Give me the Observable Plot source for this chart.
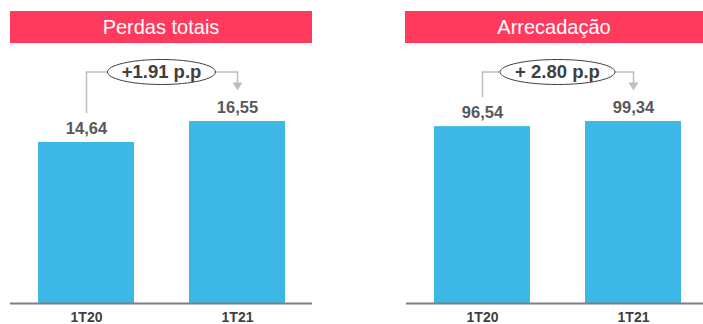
<!DOCTYPE html>
<html>
<head>
<meta charset="utf-8">
<script src="https://cdn.jsdelivr.net/npm/d3@7"></script>
<script src="https://cdn.jsdelivr.net/npm/@observablehq/plot@0.6"></script>
<style>
  html, body { margin: 0; padding: 0; background: #fff; overflow: hidden; }
  #wrap { position: relative; width: 703px; height: 324px; overflow: hidden; font-family: "Liberation Sans", Arial, sans-serif; }
  .banner { position: absolute; top: 11px; height: 32px; line-height: 32px; background: #FF3A5C; color: #fff; font-size: 20px; text-align: center; }
  .panel { position: absolute; top: 44px; }
  .panel svg { max-width: none !important; }
</style>
</head>
<body>
<div id="wrap"></div>
<script>
const quarters = ["1T20", "1T21"];
const perdas = [14.64, 16.55];
const arrecadacao = [96.54, 99.34];
const perdasLabels = ["14,64", "16,55"];
const arrecLabels = ["96,54", "99,34"];
const deltas = ["+1.91 p.p", "+ 2.80 p.p"];
const titles = ["Perdas totais", "Arrecadação"];

const wrap = document.getElementById("wrap");

function ellipseSymbol(rx, ry) {
  const k = 0.5523;
  return {
    draw(ctx) {
      ctx.moveTo(rx, 0);
      ctx.bezierCurveTo(rx, k * ry, k * rx, ry, 0, ry);
      ctx.bezierCurveTo(-k * rx, ry, -rx, k * ry, -rx, 0);
      ctx.bezierCurveTo(-rx, -k * ry, -k * rx, -ry, 0, -ry);
      ctx.bezierCurveTo(k * rx, -ry, rx, -k * ry, rx, 0);
      ctx.closePath();
    }
  };
}
const downTriangle = {
  draw(ctx) {
    ctx.moveTo(-5, -4);
    ctx.lineTo(5, -4);
    ctx.lineTo(0, 4);
    ctx.closePath();
  }
};

function panel({values, labels, delta, title, left, width, marginLeft, marginRight, bannerLeft, bannerWidth, rx}) {
  const M = d3.max(values);
  const data = quarters.map((q, i) => ({q, v: values[i], label: labels[i]}));
  const annY = M * 1.272;
  const lineColor = "#BFBFBF";
  const chart = Plot.plot({
    width,
    height: 280,
    marginTop: 77,
    marginBottom: 21,
    marginLeft,
    marginRight,
    x: {domain: quarters, paddingInner: 0.367, paddingOuter: 0.182, axis: null},
    y: {domain: [0, M], axis: null},
    style: {fontFamily: "'Liberation Sans', Arial, sans-serif", background: "transparent", overflow: "visible", maxWidth: "none"},
    marks: [
      Plot.barY(data, {x: "q", y: "v", fill: "#3DB8E6"}),
      Plot.ruleY([0], {stroke: "#7F7F7F", strokeWidth: 2}),
      Plot.ruleX([data[0]], {x: "q", y1: d => d.v + M * 0.159, y2: annY, stroke: lineColor, strokeWidth: 1.5}),
      Plot.line(data, {x: "q", y: () => annY, stroke: lineColor, strokeWidth: 1.5}),
      Plot.ruleX([data[1]], {x: "q", y1: annY, y2: d => d.v + M * 0.19, stroke: lineColor, strokeWidth: 1.5}),
      Plot.dot([data[1]], {x: "q", y: d => d.v + M * 0.17, dy: -4, symbol: downTriangle, fill: lineColor, stroke: "none"}),
      Plot.dot([annY], {y: d => d, frameAnchor: "middle", symbol: ellipseSymbol(rx, 12.5), fill: "#fff", stroke: "#404040", strokeWidth: 1}),
      Plot.text([annY], {y: d => d, frameAnchor: "middle", text: () => delta, fontSize: 18.5, fontWeight: "bold", fill: "#404040"}),
      Plot.text(data, {x: "q", y: "v", text: "label", dy: -14, fontSize: 16.5, fontWeight: "bold", fill: "#595959"}),
      Plot.text(data, {x: "q", y: () => 0, text: "q", dy: 14, fontSize: 14, fontWeight: "bold", fill: "#404040"})
    ]
  });
  const holder = document.createElement("div");
  holder.className = "panel";
  holder.style.left = left + "px";
  holder.style.width = width + "px";
  holder.appendChild(chart);
  wrap.appendChild(holder);

  const b = document.createElement("div");
  b.className = "banner";
  b.style.left = bannerLeft + "px";
  b.style.width = bannerWidth + "px";
  b.textContent = title;
  wrap.appendChild(b);
}

panel({values: perdas, labels: perdasLabels, delta: deltas[0], title: titles[0],
  left: 0, width: 351, marginLeft: 10, marginRight: 39, bannerLeft: 10, bannerWidth: 302, rx: 54});
panel({values: arrecadacao, labels: arrecLabels, delta: deltas[1], title: titles[1],
  left: 351, width: 357, marginLeft: 55, marginRight: 0, bannerLeft: 405, bannerWidth: 298, rx: 57.5});
</script>
</body>
</html>
